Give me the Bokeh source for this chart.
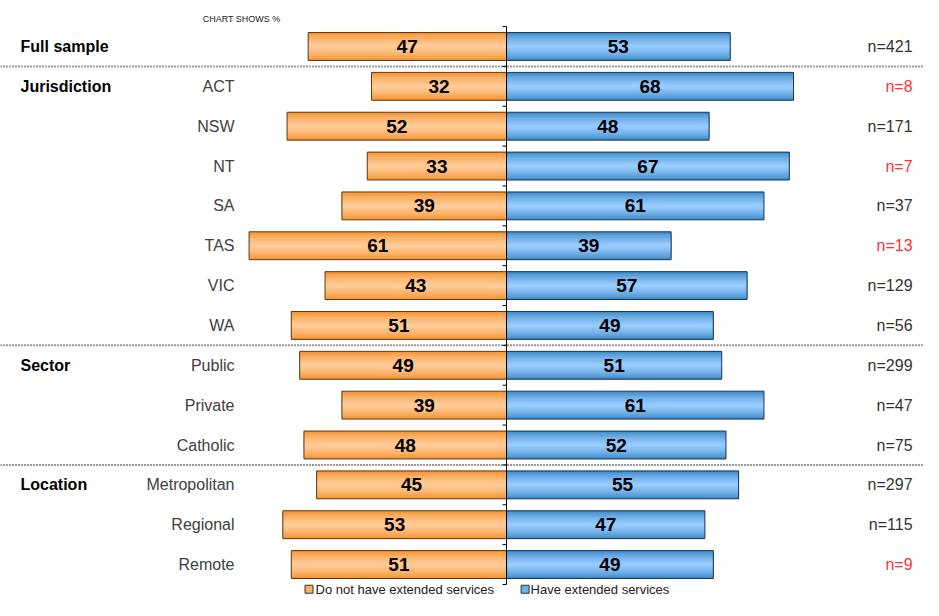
import numpy as np
from bokeh.plotting import figure
from bokeh.models import ColumnDataSource, Range1d, Span
from bokeh.core.properties import value
from bokeh.embed import file_html
from bokeh.resources import INLINE

# ---- data ----
groups = ["Full sample", "Jurisdiction", "", "", "", "", "", "", "Sector", "", "", "Location", "", ""]
categories = ["", "ACT", "NSW", "NT", "SA", "TAS", "VIC", "WA",
              "Public", "Private", "Catholic", "Metropolitan", "Regional", "Remote"]
no_ext = [47, 32, 52, 33, 39, 61, 43, 51, 49, 39, 48, 45, 53, 51]
have_ext = [53, 68, 48, 67, 61, 39, 57, 49, 51, 61, 52, 55, 47, 49]
n_sizes = [421, 8, 171, 7, 37, 13, 129, 56, 299, 47, 75, 297, 115, 9]
low_n = [False, True, False, True, False, True, False, False, False, False, False, False, False, True]
separators_after = [0, 7, 10]
series_names = ["Do not have extended services", "Have extended services"]

FONT = value("Liberation Sans")
rows = np.arange(len(categories))
no_arr = np.array(no_ext)
have_arr = np.array(have_ext)

p = figure(width=923, height=600, x_range=Range1d(-119.9, 98.8), y_range=Range1d(13.902, -1.154),
           output_backend="svg", toolbar_location=None, min_border=0,
           x_axis_location=None, y_axis_location=None)
p.grid.visible = False
p.outline_line_color = None
p.background_fill_color = "white"

src = ColumnDataSource(dict(
    y=rows,
    o_left=-no_arr, o_right=np.zeros(len(rows)),
    b_left=np.zeros(len(rows)), b_right=have_arr,
    o_mid=-no_arr / 2.0, b_mid=have_arr / 2.0,
    o_txt=[str(v) for v in no_ext], b_txt=[str(v) for v in have_ext],
    cat=categories, grp=groups,
    ntxt=["n=%d" % n for n in n_sizes],
    ncol=["#ff3333" if f else "#333333" for f in low_n],
))


def blend(c1, c2, t):
    a = [int(c1[i:i + 2], 16) for i in (1, 3, 5)]
    b = [int(c2[i:i + 2], 16) for i in (1, 3, 5)]
    return "#%02x%02x%02x" % tuple(int(round(a[k] + (b[k] - a[k]) * t)) for k in range(3))


H = 0.70
NL = 14
for edge, centre, l, r in [("#f5902a", "#ffcc99", "o_left", "o_right"),
                           ("#3787c4", "#99ccff", "b_left", "b_right")]:
    for k in range(NL):
        frac = 1.0 - k / NL
        t = (k / (NL - 1)) ** 0.7
        p.hbar(y="y", left=l, right=r, height=H * frac, source=src,
               fill_color=blend(edge, centre, t), line_color=None)

p.hbar(y="y", left="o_left", right="o_right", height=H, source=src,
       fill_alpha=0, line_color="#5a3a1a", line_width=1)
p.hbar(y="y", left="b_left", right="b_right", height=H, source=src,
       fill_alpha=0, line_color="#1f3550", line_width=1)

# center axis with ticks
p.segment(x0=[0], y0=[-0.5], x1=[0], y1=[len(rows) - 0.5], line_color="black", line_width=1)
bounds = np.arange(len(rows) + 1) - 0.5
p.segment(x0=np.zeros(len(bounds)), y0=bounds, x1=np.full(len(bounds), -0.95), y1=bounds,
          line_color="black", line_width=1)

# dotted separators
for s in separators_after:
    p.add_layout(Span(location=s + 0.5, dimension="width", line_color="#333333",
                      line_width=2, line_dash="1 2"))

# value labels
p.text(x="o_mid", y="y", text="o_txt", source=src, text_align="center", text_baseline="middle",
       text_font=FONT, text_font_size=value("19px"), text_font_style="bold", text_color="black")
p.text(x="b_mid", y="y", text="b_txt", source=src, text_align="center", text_baseline="middle",
       text_font=FONT, text_font_size=value("19px"), text_font_style="bold", text_color="black")

# group labels, category labels, n labels
p.text(x=-115.16, y="y", text="grp", source=src, text_align="left", text_baseline="middle",
       text_font=FONT, text_font_size=value("16px"), text_font_style="bold", text_color="black")
p.text(x=-64.45, y="y", text="cat", source=src, text_align="right", text_baseline="middle",
       text_font=FONT, text_font_size=value("16px"), text_color="#404040")
p.text(x=96.2, y="y", text="ntxt", source=src, text_align="right", text_baseline="middle",
       text_font=FONT, text_font_size=value("16px"), text_color="ncol")

# header note
p.text(x=[-72.0], y=[-0.70], text=["CHART SHOWS %"], text_align="left", text_baseline="middle",
       text_font=FONT, text_font_size=value("9px"), text_color="#222222")

# legend
leg_y = 13.62
p.scatter(x=[-46.8, 4.4], y=[leg_y, leg_y], marker="square", size=8,
          fill_color=["#fbb061", "#6db2e7"], line_color="#333333", line_width=1)
p.text(x=[-45.25, 5.7], y=[leg_y, leg_y], text=series_names, text_align="left",
       text_baseline="middle", text_font=FONT, text_font_size=value("13px"), text_color="#222222")

open("out.html", "w").write(file_html(p, INLINE))
